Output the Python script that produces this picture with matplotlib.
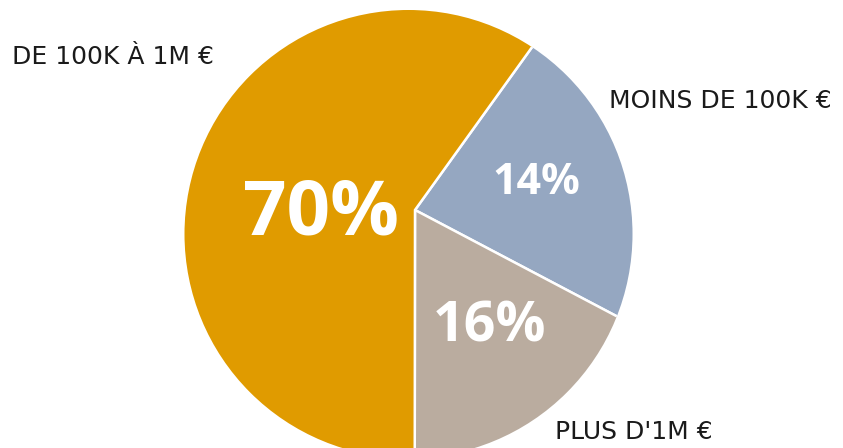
'''
    Pie chart: repartition by amount bracket
'''
import matplotlib.pyplot as plt
from matplotlib.patches import Circle

# slices, clockwise from the top-right cut
categories = ['MOINS DE 100K €', "PLUS D'1M €", 'DE 100K À 1M €']
slice_sizes = [22.8, 17.3, 59.9]
pct_labels = ['14%', '16%', '70%']
colors = ['#95A7C1', '#BAAC9F', '#E09B00']

W, H = 843, 448
fig = plt.figure(figsize=(W / 100, H / 100), dpi=100)
ax = fig.add_axes([0, 0, 1, 1])

# vertex of the slices and outline circle (pixels, y up)
vx, vy = 415, H - 210
cx, cy, r = 408.5, H - 234, 224

wedges, _ = ax.pie(slice_sizes, colors=colors, startangle=54.3, counterclock=False,
                   center=(vx, vy), radius=500,
                   wedgeprops={'edgecolor': 'white', 'linewidth': 1.8})

ax.set_xlim(0, W)
ax.set_ylim(0, H)
ax.set_aspect('equal')
ax.axis('off')

clip = Circle((cx, cy), r, transform=ax.transData)
for w in wedges:
    w.set_clip_on(True)
    w.set_clip_path(clip)

# percentage labels inside slices
pct_pos = [(536, 182), (490, 327), (321, 215)]
pct_size = [31, 40, 55]
for txt, (x, y), fs in zip(pct_labels, pct_pos, pct_size):
    ax.text(x, H - y, txt, ha='center', va='center', color='white',
            fontsize=fs, fontweight='bold', family=['Open Sans', 'DejaVu Sans'])

# category labels outside
cat_pos = [(609, 101), (555, 432), (12, 57)]
for txt, (x, y) in zip(categories, cat_pos):
    ax.text(x, H - y, txt, ha='left', va='center', color='#1a1a1a',
            fontsize=18, family=['DejaVu Sans'])

fig.savefig('out.png', dpi=100)
